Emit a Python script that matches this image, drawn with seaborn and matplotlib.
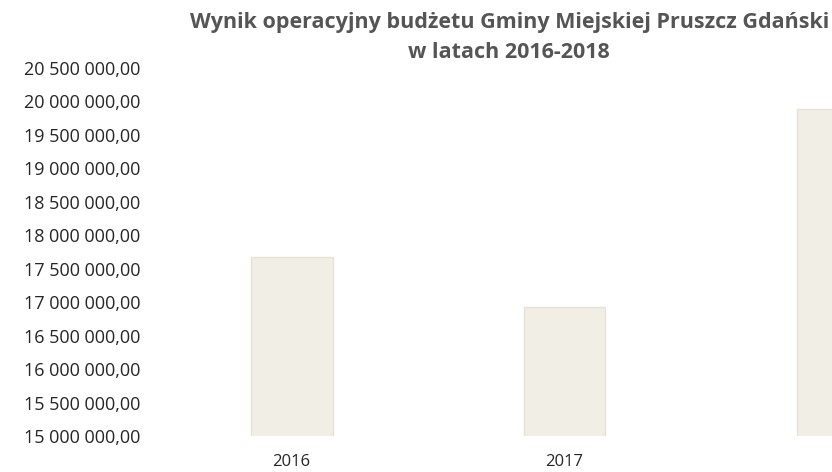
from matplotlib import pyplot as plt
from matplotlib.ticker import FuncFormatter, MultipleLocator
import seaborn as sb
import pandas as pd

years = ['2016', '2017', '2018']
wynik = [17680000, 16930000, 19880000]

title = 'Wynik operacyjny budżetu Gminy Miejskiej Pruszcz Gdański\nw latach 2016-2018'


def _pl_format(v, pos):
    s = '{:,.2f}'.format(v)
    return s.replace(',', ' ').replace('.', ',')


df = pd.DataFrame({'rok': years, 'wynik': wynik})

sb.set_style('white')
plt.rcParams['font.family'] = ['Open Sans', 'DejaVu Sans']

fig = plt.figure(figsize=(8.32, 4.72), dpi=100)
ax = fig.add_axes([0.18, 0.076, 0.82, 0.78])

sb.barplot(data=df, x='rok', y='wynik', ax=ax, color='#f1eee5', width=0.3,
           edgecolor='#e6e2d6', linewidth=1, saturation=1)

ax.set_ylim(15000000, 20500000)
ax.set_xlim(-0.52, 1.98)
ax.yaxis.set_major_locator(MultipleLocator(500000))
ax.yaxis.set_major_formatter(FuncFormatter(_pl_format))
ax.tick_params(axis='y', labelsize=13, colors='#262626', length=0, pad=7)
ax.tick_params(axis='x', labelsize=12, colors='#262626', length=0, pad=13)
ax.set_xlabel('')
ax.set_ylabel('')
sb.despine(ax=ax, left=True, bottom=True)

fig.text(0.612, 0.975, title, ha='center', va='top', fontsize=15.5, fontweight='bold',
         color='#555555', linespacing=1.55)

plt.savefig('out.png', dpi=100)
